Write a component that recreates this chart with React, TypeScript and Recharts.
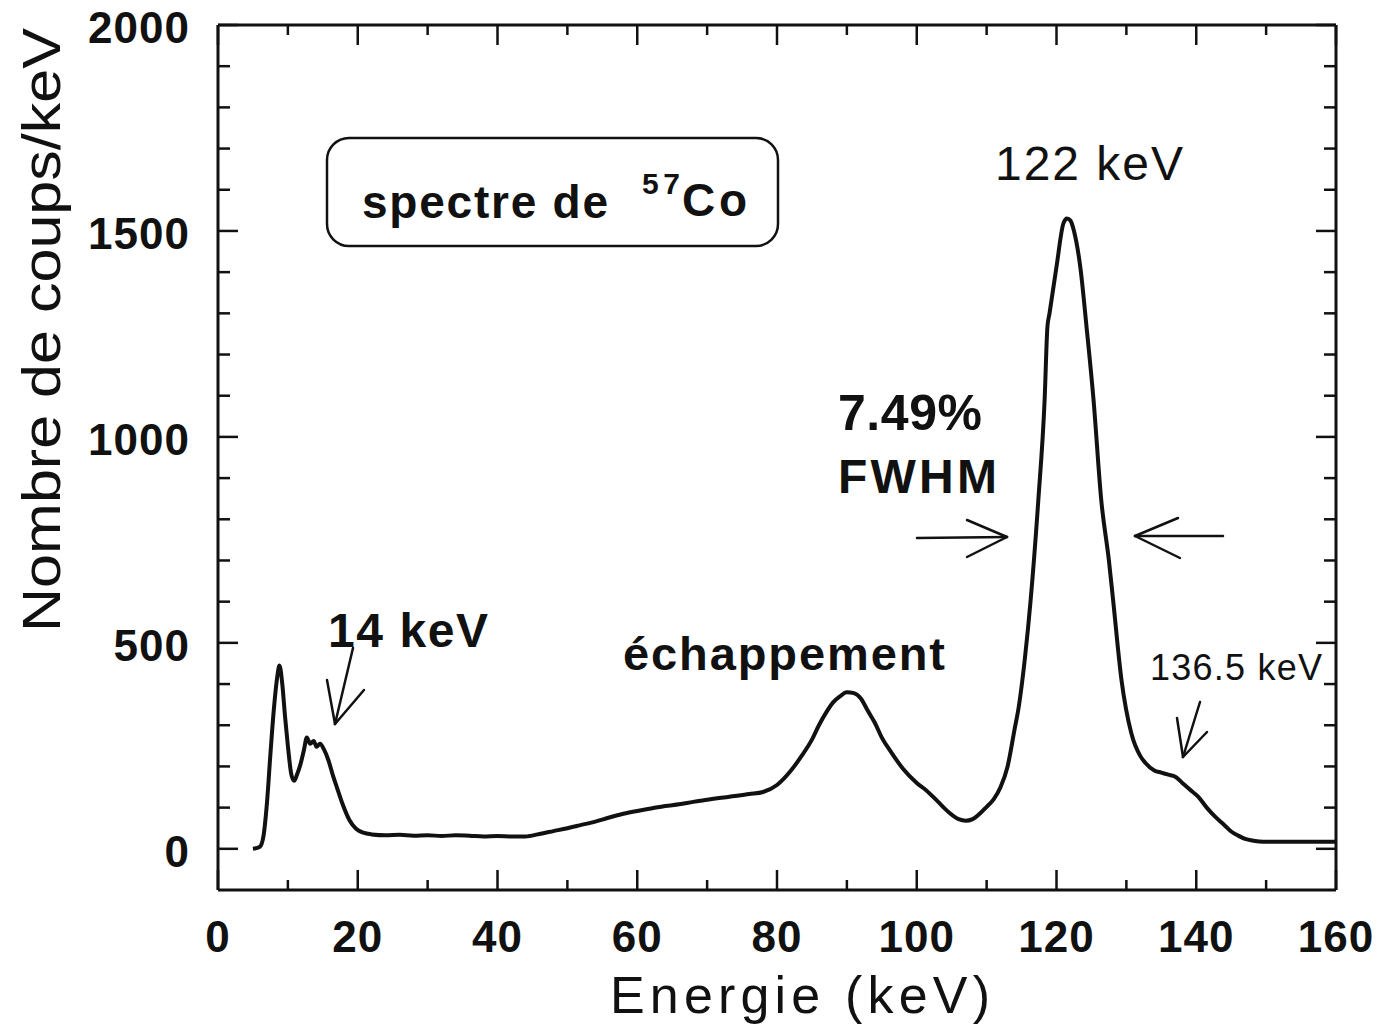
import { LineChart, Line, XAxis, YAxis } from 'recharts'

// 57Co spectrum (keV, counts/keV)
const energy = [
  5, 6, 6.5, 7, 7.5, 8, 8.5, 8.8, 9.2, 9.6, 10, 10.5, 10.9, 11.3, 11.8, 12.3, 12.7, 13.2, 13.7, 14.1,
  14.6, 15.2, 15.8, 16.5, 17, 17.8, 18.8, 19.8, 20.8, 22, 24, 26, 28, 30, 32, 34, 36, 38, 40, 42,
  44, 46, 48, 50, 52, 54, 56, 58, 60, 62, 64, 66, 68, 70, 72, 74, 76, 78, 80, 82,
  83.5, 85, 86, 87, 88, 89, 90, 91, 92, 93, 94, 95, 96.4, 98, 100, 101.3, 103, 104.5, 106, 107,
  108, 109, 110, 111, 112, 113, 114, 114.6, 115.5, 116.3, 117.4, 118.3, 118.7, 119, 120, 121, 121.5, 122, 122.5, 123.4,
  124.3, 125.3, 126.4, 127.5, 128.1, 129.3, 130.7, 132, 132.7, 134, 135, 136, 137, 138, 139, 140.3, 141.5, 142.7, 144, 145,
  146, 147, 148, 149, 150, 155, 160,
]
const counts = [
  0, 5, 30, 110, 230, 340, 420, 445, 400, 320, 250, 180, 165, 180, 205, 240, 270, 255, 262, 248,
  255, 240, 215, 175, 150, 110, 70, 48, 39, 35, 33, 34, 32, 33, 31, 33, 32, 30, 31, 30,
  30, 36, 43, 50, 58, 66, 76, 85, 92, 98, 104, 108, 114, 119, 124, 128, 133, 138, 155, 190,
  225, 265, 300, 330, 355, 370, 380, 378, 365, 335, 306, 270, 233, 195, 160, 143, 115, 90, 72, 68,
  72, 85, 102, 120, 150, 200, 290, 345, 466, 604, 847, 1090, 1267, 1300, 1413, 1519, 1530, 1525, 1500, 1413,
  1267, 1090, 847, 700, 604, 410, 281, 225, 209, 190, 185, 180, 175, 160, 145, 126, 100, 78, 58, 42,
  32, 24, 20, 18, 17, 17, 17,
]

const xTicks = [0, 10, 20, 30, 40, 50, 60, 70, 80, 90, 100, 110, 120, 130, 140, 150, 160]
const yTicks = [0, 100, 200, 300, 400, 500, 600, 700, 800, 900, 1000, 1100, 1200, 1300, 1400, 1500, 1600, 1700, 1800, 1900, 2000]

const data = energy.map((e, i) => ({ energy: e, counts: counts[i] }))

const INK = '#111'
const FONT = '"Liberation Sans", Arial, sans-serif'

function BottomTick({ x, y, payload }: any) {
  const major = payload.value % 20 === 0
  return (
    <g>
      <line x1={x} x2={x} y1={y} y2={y - (major ? 20 : 10)} stroke={INK} strokeWidth={2.5} />
      {major && (
        <text x={x} y={y + 62} textAnchor="middle" fontSize={44} fontWeight={700} fill={INK} letterSpacing={1}>
          {payload.value}
        </text>
      )}
    </g>
  )
}

function TopTick({ x, y, payload }: any) {
  const major = payload.value % 20 === 0
  return <line x1={x} x2={x} y1={y} y2={y + (major ? 20 : 10)} stroke={INK} strokeWidth={2.5} />
}

function LeftTick({ x, y, payload }: any) {
  const major = payload.value % 500 === 0
  return (
    <g>
      <line x1={x} x2={x + (major ? 20 : 12)} y1={y} y2={y} stroke={INK} strokeWidth={2.5} />
      {major && (
        <text x={x - 28} y={y + 18} textAnchor="end" fontSize={44} fontWeight={700} fill={INK} letterSpacing={1}>
          {payload.value}
        </text>
      )}
    </g>
  )
}

function RightTick({ x, y, payload }: any) {
  const major = payload.value % 500 === 0
  return <line x1={x} x2={x - (major ? 20 : 12)} y1={y} y2={y} stroke={INK} strokeWidth={2.5} />
}

function Arrow({ tail, tip, heads }: { tail: number[]; tip: number[]; heads: number[][] }) {
  return (
    <g stroke={INK} strokeWidth={2.5} fill="none" strokeLinecap="round">
      <line x1={tail[0]} y1={tail[1]} x2={tip[0]} y2={tip[1]} />
      {heads.map((h, i) => (
        <line key={i} x1={h[0]} y1={h[1]} x2={tip[0]} y2={tip[1]} />
      ))}
    </g>
  )
}

export default function App() {
  const axisLine = { stroke: INK, strokeWidth: 3 }
  return (
    <div style={{ position: 'relative', width: 1380, height: 1033, margin: -8, fontFamily: FONT, background: '#fff' }}>
      <LineChart
        width={1380}
        height={1033}
        data={data}
        margin={{ top: 24, right: 43, bottom: 0, left: 0 }}
      >
        <XAxis
          dataKey="energy"
          type="number"
          domain={[0, 160]}
          ticks={xTicks}
          interval={0}
          height={143}
          tickSize={0}
          tickMargin={0}
          tickLine={false}
          axisLine={axisLine}
          tick={<BottomTick />}
        />
        <XAxis
          xAxisId="top"
          dataKey="energy"
          orientation="top"
          type="number"
          domain={[0, 160]}
          ticks={xTicks}
          interval={0}
          height={1}
          tickSize={0}
          tickMargin={0}
          tickLine={false}
          axisLine={axisLine}
          tick={<TopTick />}
        />
        <YAxis
          type="number"
          domain={[-100, 2000]}
          ticks={yTicks}
          interval={0}
          width={218}
          tickSize={0}
          tickMargin={0}
          tickLine={false}
          axisLine={axisLine}
          tick={<LeftTick />}
        />
        <YAxis
          yAxisId="right"
          orientation="right"
          type="number"
          domain={[-100, 2000]}
          ticks={yTicks}
          interval={0}
          width={1}
          tickSize={0}
          tickMargin={0}
          tickLine={false}
          axisLine={axisLine}
          tick={<RightTick />}
        />
        {/* invisible copy so the mirrored frame axes get drawn */}
        <Line
          xAxisId="top"
          yAxisId="right"
          dataKey="counts"
          stroke="none"
          dot={false}
          activeDot={false}
          isAnimationActive={false}
        />
        <Line
          dataKey="counts"
          type="monotone"
          stroke={INK}
          strokeWidth={4}
          strokeLinejoin="round"
          dot={false}
          activeDot={false}
          isAnimationActive={false}
        />
      </LineChart>

      <svg
        width={1380}
        height={1033}
        style={{ position: 'absolute', left: 0, top: 0, pointerEvents: 'none' }}
        fontFamily={FONT}
        fill={INK}
      >
        <rect x={327} y={138} width={451} height={108} rx={22} fill="none" stroke={INK} strokeWidth={2.5} />
        <text x={362} y={218} fontSize={46} fontWeight={700} textLength={246} lengthAdjust="spacing">spectre de</text>
        <text x={642} y={194} fontSize={30} fontWeight={700} textLength={38} lengthAdjust="spacing">57</text>
        <text x={682} y={216} fontSize={46} fontWeight={700} textLength={65} lengthAdjust="spacing">Co</text>

        <text x={995} y={180} fontSize={48} textLength={188} lengthAdjust="spacing">122 keV</text>

        <text x={838} y={430} fontSize={50} fontWeight={700} textLength={144} lengthAdjust="spacing">7.49%</text>
        <text x={838} y={493} fontSize={48} fontWeight={700} textLength={159} lengthAdjust="spacing">FWHM</text>
        <Arrow tail={[917, 538]} tip={[1007, 537]} heads={[[967, 520], [967, 557]]} />
        <Arrow tail={[1223, 536]} tip={[1135, 536]} heads={[[1178, 518], [1180, 558]]} />

        <text x={328} y={647} fontSize={48} fontWeight={700} textLength={160} lengthAdjust="spacing">14 keV</text>
        <Arrow tail={[353, 648]} tip={[335, 724]} heads={[[327, 680], [364, 690]]} />

        <text x={623} y={670} fontSize={47} fontWeight={700} textLength={322} lengthAdjust="spacing">échappement</text>

        <text x={1150} y={680} fontSize={36} textLength={172} lengthAdjust="spacing">136.5 keV</text>
        <Arrow tail={[1200, 702]} tip={[1183, 757]} heads={[[1177, 718], [1207, 732]]} />

        <text x={610} y={1013} fontSize={52} textLength={380} lengthAdjust="spacing">Energie  (keV)</text>
        <text
          transform="translate(60 330) rotate(-90)"
          textAnchor="middle"
          fontSize={54}
          textLength={604}
          lengthAdjust="spacingAndGlyphs"
        >
          Nombre de coups/keV
        </text>
      </svg>
    </div>
  )
}
